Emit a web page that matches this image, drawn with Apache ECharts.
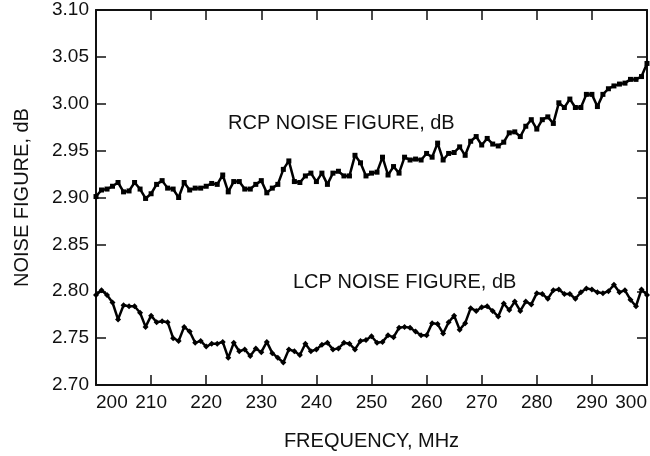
<!DOCTYPE html>
<html>
<head>
<meta charset="utf-8">
<script src="https://cdn.jsdelivr.net/npm/echarts@6/dist/echarts.min.js"></script>
<style>
  html, body { margin: 0; padding: 0; background: #fff; }
  #chart { width: 650px; height: 456px; }
</style>
</head>
<body>
<div id="chart"></div>
<script>
// frequency grid, MHz
const freqs = [
  200, 201, 202, 203, 204, 205, 206, 207, 208, 209,
  210, 211, 212, 213, 214, 215, 216, 217, 218, 219,
  220, 221, 222, 223, 224, 225, 226, 227, 228, 229,
  230, 231, 232, 233, 234, 235, 236, 237, 238, 239,
  240, 241, 242, 243, 244, 245, 246, 247, 248, 249,
  250, 251, 252, 253, 254, 255, 256, 257, 258, 259,
  260, 261, 262, 263, 264, 265, 266, 267, 268, 269,
  270, 271, 272, 273, 274, 275, 276, 277, 278, 279,
  280, 281, 282, 283, 284, 285, 286, 287, 288, 289,
  290, 291, 292, 293, 294, 295, 296, 297, 298, 299,
  300
];

const rcpNoise = [
  2.901, 2.908, 2.909, 2.912, 2.916, 2.906, 2.907, 2.916, 2.909, 2.899,
  2.904, 2.914, 2.918, 2.910, 2.909, 2.900, 2.916, 2.908, 2.910, 2.910,
  2.912, 2.915, 2.914, 2.924, 2.906, 2.917, 2.917, 2.909, 2.909, 2.914,
  2.918, 2.905, 2.910, 2.914, 2.930, 2.939, 2.917, 2.916, 2.923, 2.926,
  2.917, 2.926, 2.914, 2.926, 2.928, 2.923, 2.923, 2.945, 2.937, 2.923,
  2.926, 2.927, 2.943, 2.924, 2.933, 2.926, 2.943, 2.940, 2.941, 2.940,
  2.947, 2.943, 2.958, 2.940, 2.947, 2.948, 2.954, 2.945, 2.960, 2.965,
  2.956, 2.963, 2.957, 2.955, 2.959, 2.969, 2.970, 2.965, 2.976, 2.983,
  2.973, 2.983, 2.986, 2.979, 3.001, 2.996, 3.005, 2.996, 2.996, 3.010,
  3.010, 2.997, 3.010, 3.016, 3.019, 3.021, 3.022, 3.026, 3.026, 3.029,
  3.043
];

const lcpNoise = [
  2.796, 2.801, 2.796, 2.788, 2.770, 2.785, 2.784, 2.784, 2.777, 2.762,
  2.774, 2.767, 2.768, 2.767, 2.750, 2.747, 2.762, 2.757, 2.745, 2.747,
  2.741, 2.744, 2.744, 2.746, 2.729, 2.745, 2.736, 2.738, 2.731, 2.739,
  2.735, 2.746, 2.734, 2.729, 2.724, 2.738, 2.736, 2.732, 2.744, 2.736,
  2.738, 2.743, 2.745, 2.738, 2.739, 2.745, 2.744, 2.738, 2.747, 2.748,
  2.752, 2.745, 2.746, 2.753, 2.751, 2.761, 2.762, 2.761, 2.757, 2.753,
  2.753, 2.766, 2.765, 2.755, 2.767, 2.774, 2.759, 2.766, 2.782, 2.779,
  2.783, 2.784, 2.779, 2.773, 2.787, 2.780, 2.789, 2.779, 2.789, 2.786,
  2.798, 2.797, 2.792, 2.801, 2.802, 2.797, 2.797, 2.792, 2.799, 2.803,
  2.802, 2.799, 2.798, 2.800, 2.807, 2.799, 2.801, 2.791, 2.784, 2.802,
  2.796
];

const seriesNames = ['RCP NOISE FIGURE, dB', 'LCP NOISE FIGURE, dB'];
const xTitle = 'FREQUENCY, MHz';
const yTitle = 'NOISE FIGURE, dB';

const font = 'Liberation Sans, Arial, Helvetica, sans-serif';
const ink = '#111';

const chart = echarts.init(document.getElementById('chart'));

const frame = {
  axisLine: { show: true, lineStyle: { color: ink, width: 2 } },
  axisTick: { show: true, inside: true, length: 10, lineStyle: { color: ink, width: 1.5 } },
  splitLine: { show: false }
};

const option = {
  animation: false,
  backgroundColor: '#fff',
  grid: { left: 96, right: 2, top: 10, bottom: 70 },
  xAxis: [
    {
      type: 'value',
      min: 200,
      max: 300,
      interval: 10,
      name: xTitle,
      nameLocation: 'middle',
      nameGap: 46,
      nameTextStyle: { fontFamily: font, fontSize: 20, color: ink },
      axisLabel: {
        margin: 8,
        fontFamily: font,
        fontSize: 19,
        color: ink,
        alignMinLabel: 'left',
        alignMaxLabel: 'right'
      },
      ...frame
    },
    {
      type: 'value',
      position: 'top',
      min: 200,
      max: 300,
      interval: 10,
      axisLabel: { show: false },
      ...frame
    }
  ],
  yAxis: [
    {
      type: 'value',
      min: 2.7,
      max: 3.1,
      interval: 0.05,
      name: yTitle,
      nameLocation: 'middle',
      nameGap: 64,
      nameTextStyle: { fontFamily: font, fontSize: 20, color: ink },
      axisLabel: {
        margin: 7,
        fontFamily: font,
        fontSize: 19,
        color: ink,
        formatter: v => v.toFixed(2)
      },
      ...frame
    },
    {
      type: 'value',
      position: 'right',
      min: 2.7,
      max: 3.1,
      interval: 0.05,
      axisLabel: { show: false },
      ...frame
    }
  ],
  graphic: [
    {
      type: 'text',
      left: 228,
      top: 113,
      style: { text: seriesNames[0], font: '20px ' + font, fill: ink }
    },
    {
      type: 'text',
      left: 293,
      top: 272,
      style: { text: seriesNames[1], font: '20px ' + font, fill: ink }
    }
  ],
  series: [
    {
      name: seriesNames[0],
      type: 'line',
      clip: false,
      data: freqs.map((f, i) => [f, rcpNoise[i]]),
      symbol: 'rect',
      symbolSize: 5,
      showAllSymbol: true,
      lineStyle: { color: '#000', width: 2.5 },
      itemStyle: { color: '#000' }
    },
    {
      name: seriesNames[1],
      type: 'line',
      clip: false,
      data: freqs.map((f, i) => [f, lcpNoise[i]]),
      symbol: 'diamond',
      symbolSize: 6,
      showAllSymbol: true,
      lineStyle: { color: '#000', width: 2.5 },
      itemStyle: { color: '#000' }
    }
  ]
};

chart.setOption(option);
</script>
</body>
</html>
